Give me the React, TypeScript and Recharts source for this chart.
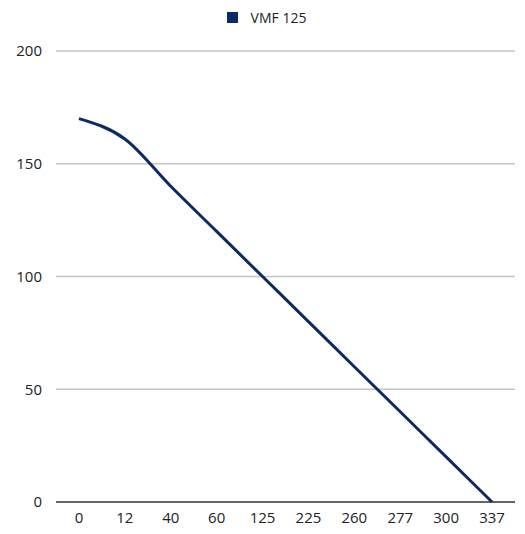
import React from "react";
import { LineChart, Line, XAxis, YAxis, CartesianGrid, Legend, ReferenceLine } from "recharts";

// Airflow categories along the x axis and the matching pressure values
const flowLabels = ["0", "12", "40", "60", "125", "225", "260", "277", "300", "337"];
const pressureValues = [170, 161, 140, 120, 100, 80, 60, 40, 20, 0];
const yTicks = [0, 50, 100, 150, 200];

const seriesName = "VMF 125";
const lineColor = "#0b2b62";
const fontFamily = "'Open Sans', sans-serif";

const data = flowLabels.map((label, i) => ({ flow: label, value: pressureValues[i] }));

const LegendContent = (props: any) => {
  const { payload } = props;
  return (
    <div style={{ display: "flex", justifyContent: "center", alignItems: "center", fontFamily, fontSize: 14, lineHeight: "19px", color: "#222" }}>
      {(payload || []).map((entry: any) => (
        <div key={entry.value} style={{ display: "flex", alignItems: "center" }}>
          <span style={{ display: "inline-block", width: 11, height: 11, background: entry.color, marginRight: 13 }} />
          <span>{entry.value}</span>
        </div>
      ))}
    </div>
  );
};

export default function App() {
  return (
    <div style={{ position: "absolute", left: 0, top: 0, background: "#fff" }}>
      <LineChart width={525} height={534} data={data} margin={{ top: 32, right: 10, bottom: 2, left: 0 }}>
        <Legend verticalAlign="top" align="center" content={<LegendContent />} wrapperStyle={{ top: 8, left: 4, width: 525 }} />
        <CartesianGrid vertical={false} stroke="#c4c4c4" strokeWidth={1.5} />
        <XAxis
          dataKey="flow"
          scale="band"
          height={30}
          axisLine={false}
          tickLine={false}
          tickMargin={4}
          tick={{ fill: "#222", fontSize: 15, fontFamily }}
        />
        <YAxis
          width={56}
          domain={[0, 200]}
          ticks={yTicks}
          axisLine={false}
          tickLine={false}
          tickMargin={8}
          tick={{ fill: "#222", fontSize: 15, fontFamily }}
        />
        <ReferenceLine y={0} stroke="#666" strokeWidth={2} />
        <Line
          type="monotone"
          dataKey="value"
          name={seriesName}
          stroke={lineColor}
          strokeWidth={3}
          dot={false}
          isAnimationActive={false}
        />
      </LineChart>
    </div>
  );
}
